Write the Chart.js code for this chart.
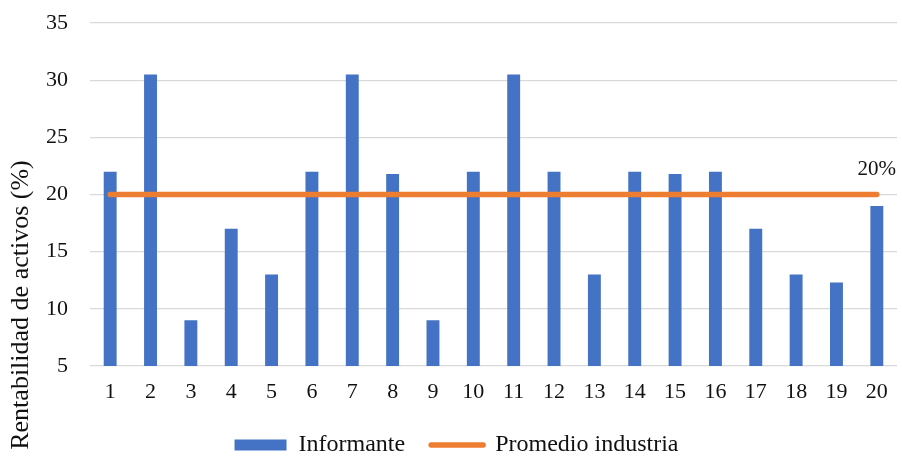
<!DOCTYPE html>
<html>
<head>
<meta charset="utf-8">
<script src="https://cdn.jsdelivr.net/npm/chart.js@4/dist/chart.umd.min.js"></script>
<style>
html,body{margin:0;padding:0;background:#ffffff;}
#wrap{width:902px;height:456px;}
</style>
</head>
<body>
<div id="wrap"><canvas id="c" width="902" height="456"></canvas></div>
<script>
const categories = ['1','2','3','4','5','6','7','8','9','10','11','12','13','14','15','16','17','18','19','20'];
const informante = [22, 30.5, 9, 17, 13, 22, 30.5, 21.8, 9, 22, 30.5, 22, 13, 22, 21.8, 22, 17, 13, 12.3, 19];
const promedioIndustria = [20, 20, 20, 20, 20, 20, 20, 20, 20, 20, 20, 20, 20, 20, 20, 20, 20, 20, 20, 20];
const seriesNames = ['Informante', 'Promedio industria'];
const yAxisTitle = 'Rentabilidad de activos (%)';
const lineEndLabel = '20%';
const yMin = 5, yMax = 35, yStep = 5;

const BLUE = '#4472C4';
const ORANGE = '#ED7D31';
const FONT = "'Liberation Serif', 'Times New Roman', serif";
const TEXT = '#111111';

const yTitlePlugin = {
  id: 'yTitle',
  afterDraw(chart) {
    const ctx = chart.ctx;
    ctx.save();
    ctx.font = '26px ' + FONT;
    ctx.fillStyle = TEXT;
    ctx.textAlign = 'center';
    ctx.textBaseline = 'middle';
    ctx.translate(21, 305);
    ctx.rotate(-Math.PI / 2);
    ctx.fillText(yAxisTitle, 0, 0);
    ctx.restore();
  }
};

const lineLabelPlugin = {
  id: 'lineLabel',
  afterDatasetsDraw(chart) {
    const meta = chart.getDatasetMeta(1);
    const pts = meta.data;
    const last = pts[pts.length - 1];
    if (!last) return;
    const ctx = chart.ctx;
    ctx.save();
    ctx.font = '21px ' + FONT;
    ctx.fillStyle = TEXT;
    ctx.textAlign = 'center';
    ctx.textBaseline = 'middle';
    ctx.fillText(lineEndLabel, last.x, last.y - 25);
    ctx.restore();
  }
};

new Chart(document.getElementById('c'), {
  data: {
    labels: categories,
    datasets: [
      {
        type: 'bar',
        label: seriesNames[0],
        data: informante,
        backgroundColor: BLUE,
        borderWidth: 0,
        categoryPercentage: 1,
        barPercentage: 0.32,
        order: 1
      },
      {
        type: 'line',
        label: seriesNames[1],
        data: promedioIndustria,
        borderColor: ORANGE,
        backgroundColor: ORANGE,
        borderWidth: 5.5,
        borderCapStyle: 'round',
        pointRadius: 0,
        pointHoverRadius: 0,
        tension: 0,
        order: 0
      }
    ]
  },
  options: {
    responsive: false,
    animation: false,
    devicePixelRatio: 1,
    layout: { padding: { left: 16, right: 5, top: 23, bottom: -11 } },
    scales: {
      x: {
        grid: { display: false, drawTicks: false },
        border: { display: false },
        ticks: { color: TEXT, font: { family: FONT, size: 22 }, padding: 13, maxRotation: 0, autoSkip: false },
        afterFit(scale) { scale.height = 41; }
      },
      y: {
        min: yMin,
        max: yMax,
        grid: { color: '#D9D9D9', lineWidth: 1.3, drawTicks: false },
        border: { display: false },
        ticks: { stepSize: yStep, color: TEXT, font: { family: FONT, size: 22 }, padding: 22 },
        afterFit(scale) { scale.width = 74; scale.paddingTop = 0; scale.paddingBottom = 0; }
      }
    },
    plugins: {
      tooltip: { enabled: false },
      legend: {
        position: 'bottom',
        labels: {
          usePointStyle: true,
          pointStyleWidth: 52,
          boxHeight: 11,
          padding: 26,
          color: TEXT,
          font: { family: FONT, size: 24 },
          generateLabels(chart) {
            return [
              { text: seriesNames[0], fillStyle: BLUE, strokeStyle: BLUE, lineWidth: 0, pointStyle: 'rect', datasetIndex: 0, hidden: false, fontColor: TEXT },
              { text: seriesNames[1], fillStyle: ORANGE, strokeStyle: ORANGE, lineWidth: 5.5, lineCap: 'round', pointStyle: 'line', datasetIndex: 1, hidden: false, fontColor: TEXT }
            ];
          }
        }
      }
    }
  },
  plugins: [yTitlePlugin, lineLabelPlugin]
});
</script>
</body>
</html>
